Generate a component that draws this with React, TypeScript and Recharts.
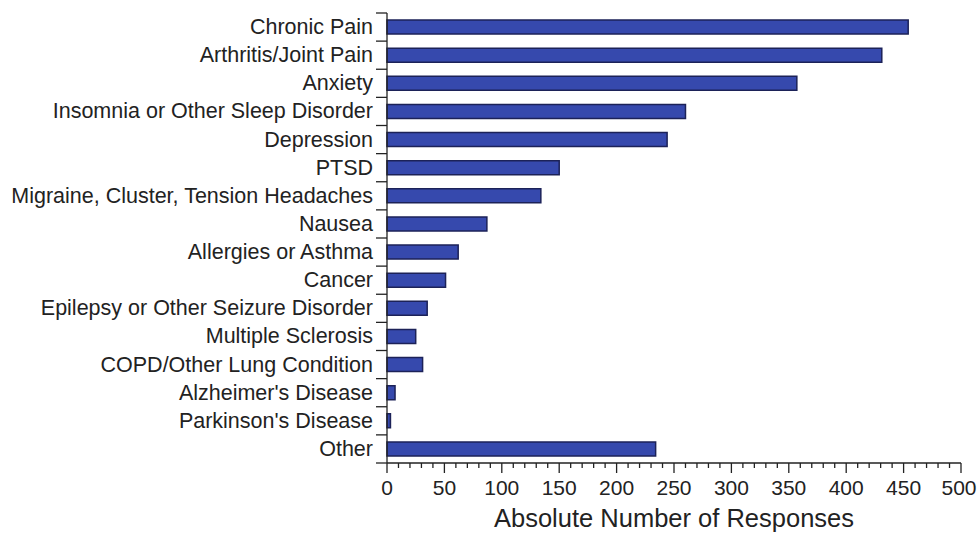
import { Bar, BarChart, XAxis, YAxis } from "recharts";

const categories = [
  "Chronic Pain",
  "Arthritis/Joint Pain",
  "Anxiety",
  "Insomnia or Other Sleep Disorder",
  "Depression",
  "PTSD",
  "Migraine, Cluster, Tension Headaches",
  "Nausea",
  "Allergies or Asthma",
  "Cancer",
  "Epilepsy or Other Seizure Disorder",
  "Multiple Sclerosis",
  "COPD/Other Lung Condition",
  "Alzheimer's Disease",
  "Parkinson's Disease",
  "Other",
];

const responses = [454, 431, 357, 260, 244, 150, 134, 87, 62, 51, 35, 25, 31, 7, 3, 234];

const majorTicks = [0, 50, 100, 150, 200, 250, 300, 350, 400, 450, 500];
const minorStep = 10;

const data = categories.map((name, i) => ({ name, value: responses[i] }));

const W = 977;
const H = 533;
const TOP = 13;
const RIGHT = 16;
const YW = 387;
const XH = 70;
const BAND = (H - TOP - XH) / categories.length;
const FONT = "'Liberation Sans', Arial, Helvetica, sans-serif";
const INK = "#222";

const allTicks: number[] = [];
for (let v = 0; v <= 500; v += minorStep) allTicks.push(v);

function XTick(props: any) {
  const { x, y, payload } = props;
  const major = majorTicks.includes(payload.value);
  // keep the last label inside the page edge
  const tx = payload.value === 500 ? x - 2 : x;
  return (
    <g>
      <line x1={x} x2={x} y1={y} y2={y + (major ? 10 : 5)} stroke={INK} strokeWidth={1.3} />
      {major && (
        <text x={tx} y={y + 32} textAnchor="middle" fontSize={21} fill={INK} fontFamily={FONT}>
          {payload.value}
        </text>
      )}
    </g>
  );
}

function YTick(props: any) {
  const { x, y, payload, index } = props;
  const last = index === categories.length - 1;
  return (
    <g>
      <line x1={x - 11} x2={x} y1={y - BAND / 2} y2={y - BAND / 2} stroke={INK} strokeWidth={1.3} />
      {last && (
        <line x1={x - 11} x2={x} y1={y + BAND / 2} y2={y + BAND / 2} stroke={INK} strokeWidth={1.3} />
      )}
      <text x={x - 14} y={y + 7} textAnchor="end" fontSize={21.5} fill={INK} fontFamily={FONT}>
        {payload.value}
      </text>
    </g>
  );
}

export default function App() {
  return (
    <div style={{ position: "absolute", left: 0, top: 0, width: W, height: H, background: "#fff" }}>
      <BarChart
        width={W}
        height={H}
        data={data}
        layout="vertical"
        margin={{ top: TOP, right: RIGHT, bottom: 0, left: 0 }}
      >
        <XAxis
          type="number"
          domain={[0, 500]}
          ticks={allTicks}
          interval={0}
          tick={<XTick />}
          tickLine={false}
          tickSize={0}
          tickMargin={0}
          height={XH}
          axisLine={{ stroke: INK, strokeWidth: 1.3 }}
          label={{
            value: "Absolute Number of Responses",
            position: "insideBottom",
            offset: 6,
            fontSize: 25.5,
            fill: INK,
            fontFamily: FONT,
          }}
        />
        <XAxis
          xAxisId="top"
          orientation="top"
          type="number"
          domain={[0, 500]}
          tick={false}
          tickLine={false}
          height={0}
          axisLine={{ stroke: INK, strokeWidth: 1.3 }}
        />
        <YAxis
          type="category"
          dataKey="name"
          width={YW}
          interval={0}
          tick={<YTick />}
          tickLine={false}
          tickSize={0}
          tickMargin={0}
          axisLine={{ stroke: INK, strokeWidth: 1.3 }}
        />
        <YAxis
          yAxisId="right"
          orientation="right"
          type="category"
          dataKey="name"
          width={0}
          tick={false}
          tickLine={false}
          axisLine={{ stroke: INK, strokeWidth: 1.3 }}
        />
        <Bar
          dataKey="value"
          fill="#3649ad"
          stroke="#1c2258"
          strokeWidth={1.5}
          barSize={14}
          isAnimationActive={false}
        />
      </BarChart>
    </div>
  );
}
